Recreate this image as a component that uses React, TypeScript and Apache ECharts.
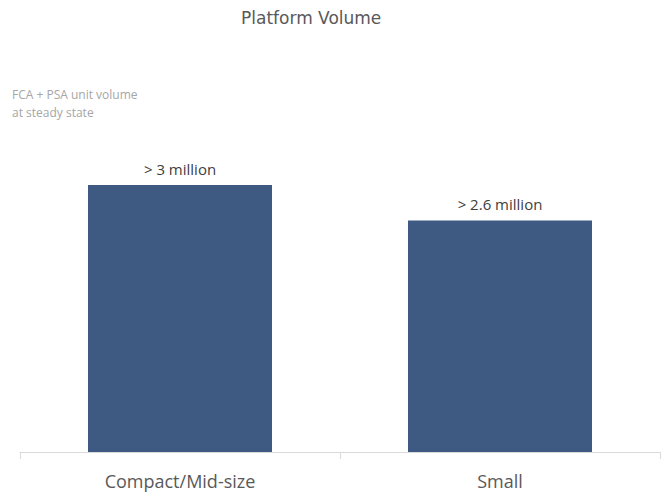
import React, { useEffect, useRef } from "react";
import * as echarts from "echarts";

const categories = ["Compact/Mid-size", "Small"];
const volumes = [3.0, 2.6];
const valueLabels = ["> 3 million", "> 2.6 million"];
const titleText = "Platform Volume";
const subtitleText = "FCA + PSA unit volume\nat steady state";

export default function App() {
  const ref = useRef<HTMLDivElement>(null);
  useEffect(() => {
    if (!ref.current) return;
    const chart = echarts.init(ref.current, null, { renderer: "svg" });
    chart.setOption({
      animation: false,
      backgroundColor: "#ffffff",
      title: [
        {
          text: titleText,
          left: 241,
          top: 9,
          padding: 0,
          textStyle: {
            fontFamily: "DejaVu Sans",
            fontSize: 17,
            fontWeight: "normal",
            color: "#595959",
          },
        },
        {
          text: subtitleText,
          left: 12,
          top: 85,
          padding: 0,
          textStyle: {
            fontFamily: "Open Sans",
            fontSize: 12,
            fontWeight: "normal",
            color: "#a6a6a6",
            lineHeight: 18,
          },
        },
      ],
      grid: { left: 20, right: 8, top: 96, bottom: 42 },
      xAxis: {
        type: "category",
        data: categories,
        axisLine: { lineStyle: { color: "#d9d9d9", width: 1 } },
        axisTick: { show: true, length: 7, lineStyle: { color: "#d9d9d9" } },
        axisLabel: {
          fontFamily: "Open Sans",
          fontSize: 18,
          color: "#595959",
          margin: 20,
        },
      },
      yAxis: {
        type: "value",
        min: 0,
        max: 4,
        show: false,
        splitLine: { show: false },
      },
      series: [
        {
          type: "bar",
          barWidth: "57.5%",
          data: volumes.map((v, i) => ({
            value: v,
            label: { formatter: valueLabels[i] },
          })),
          itemStyle: { color: "#3e5a83" },
          label: {
            show: true,
            position: "top",
            distance: 9,
            fontFamily: "Open Sans",
            fontSize: 15,
            color: "#404040",
          },
        },
      ],
    });
    return () => chart.dispose();
  }, []);
  return (
    <div
      ref={ref}
      style={{ position: "absolute", left: 0, top: 0, width: 668, height: 494 }}
    />
  );
}
